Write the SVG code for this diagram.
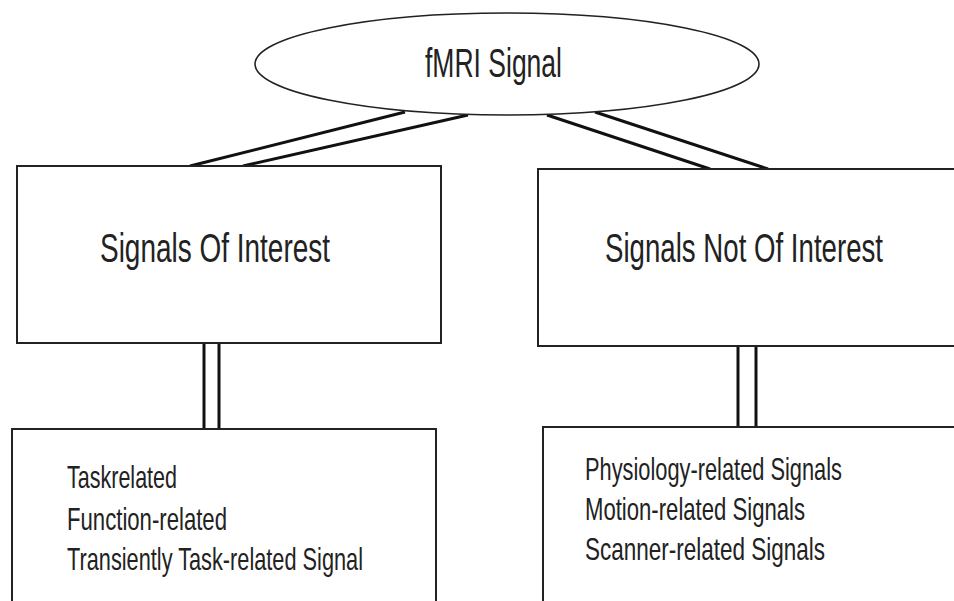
<svg xmlns="http://www.w3.org/2000/svg" width="954" height="601" viewBox="0 0 954 601">
<style>
.bg{fill:#ffffff}
.box{fill:#ffffff;stroke:#222;stroke-width:2}
.oval{fill:#ffffff;stroke:#222;stroke-width:1.6}
.conn{stroke:#111;stroke-width:3;fill:none;stroke-linecap:butt}
.t{font-family:"Liberation Sans",Arial,sans-serif;fill:#222;}
.big{font-size:28px}
.small{font-size:24px}
</style>
<rect class="bg" x="0" y="0" width="954" height="601"/>
<g id="connectors">
<line class="conn" x1="405" y1="112" x2="190" y2="166"/>
<line class="conn" x1="468" y1="115" x2="243" y2="166"/>
<line class="conn" x1="547" y1="115" x2="710" y2="169"/>
<line class="conn" x1="595" y1="112" x2="768" y2="169"/>
<line class="conn" x1="204" y1="343" x2="204" y2="429"/>
<line class="conn" x1="219" y1="343" x2="219" y2="429"/>
<line class="conn" x1="738" y1="346" x2="738" y2="427"/>
<line class="conn" x1="756" y1="346" x2="756" y2="427"/>
</g>
<g id="fmri">
<ellipse class="oval" cx="507" cy="64" rx="252" ry="51"/>
<text class="t big" transform="translate(425,77) scale(1,1.43)" textLength="137" lengthAdjust="spacingAndGlyphs">fMRI Signal</text>
</g>
<g id="soi">
<rect class="box" x="17" y="166" width="424" height="177"/>
<text class="t big" transform="translate(100,262) scale(1,1.43)" textLength="230" lengthAdjust="spacingAndGlyphs">Signals Of Interest</text>
</g>
<g id="snoi">
<path class="box" d="M954 169 H538 V346 H954"/>
<text class="t big" transform="translate(605,262) scale(1,1.43)" textLength="278" lengthAdjust="spacingAndGlyphs">Signals Not Of Interest</text>
</g>
<g id="soi-list">
<path class="box" d="M12 601 V429 H436 V601"/>
<text class="t small" transform="translate(67,488) scale(1,1.333)" textLength="110" lengthAdjust="spacingAndGlyphs">Taskrelated</text>
<text class="t small" transform="translate(67,530) scale(1,1.333)" textLength="160" lengthAdjust="spacingAndGlyphs">Function-related</text>
<text class="t small" transform="translate(67,570) scale(1,1.333)" textLength="296" lengthAdjust="spacingAndGlyphs">Transiently Task-related Signal</text>
</g>
<g id="snoi-list">
<path class="box" d="M543 601 V427 H954"/>
<text class="t small" transform="translate(585,480) scale(1,1.333)" textLength="257" lengthAdjust="spacingAndGlyphs">Physiology-related Signals</text>
<text class="t small" transform="translate(585,520) scale(1,1.333)" textLength="220" lengthAdjust="spacingAndGlyphs">Motion-related Signals</text>
<text class="t small" transform="translate(585,560) scale(1,1.333)" textLength="240" lengthAdjust="spacingAndGlyphs">Scanner-related Signals</text>
</g>
</svg>
